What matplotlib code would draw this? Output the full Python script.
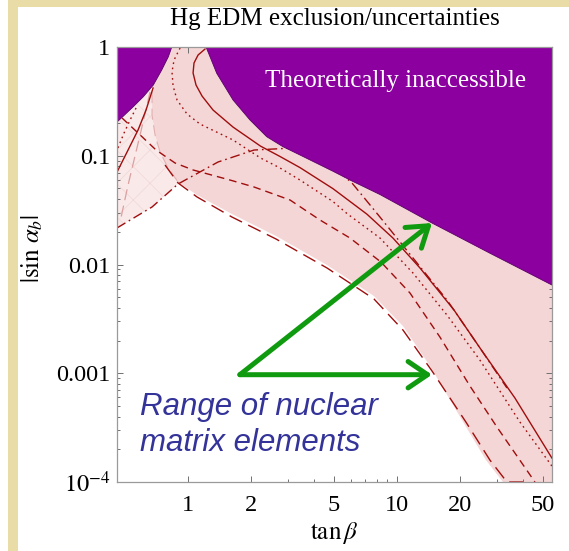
import matplotlib
matplotlib.use("Agg")
import matplotlib.pyplot as plt
from matplotlib.ticker import FixedLocator, FixedFormatter, NullFormatter
from matplotlib.patches import Rectangle

plt.rcParams['font.family'] = ['Liberation Serif', 'DejaVu Serif']
plt.rcParams['mathtext.fontset'] = 'stix'
plt.rcParams['lines.scale_dashes'] = False
plt.rcParams['hatch.linewidth'] = 0.6

# ---- data: tan(beta) and |sin alpha_b| along each boundary / curve ----
# theoretically inaccessible region
excl_left_tb = [0.40, 0.459, 0.547, 0.611, 0.682, 0.748, 0.805, 0.836]
excl_left_s = [0.2056, 0.2056, 0.2825, 0.349, 0.447, 0.614, 0.814, 1.0]
excl_right_tb = [1.2195, 1.274, 1.372, 1.642, 1.980, 2.380, 2.848, 3.435,
                 4.941, 6.091, 8.292, 14.71, 27.86, 55.17]
excl_right_s = [1.0, 0.814, 0.573, 0.3256, 0.213, 0.1497, 0.1211, 0.1016,
                0.0720, 0.0586, 0.0440, 0.02407, 0.0127, 0.00648]

# allowed band (range of nuclear matrix elements)
band_left_tb = [0.6726, 0.6726, 0.6952, 0.7345, 0.8025, 0.8958]
band_left_s = [0.3857, 0.2369, 0.1552, 0.1082, 0.0772, 0.0574]
band_low_tb = [0.8958, 1.104, 1.624, 2.637, 4.626, 7.762, 10.68, 14.38,
               20.46, 26.66, 32.16]
band_low_s = [0.0574, 0.0436, 0.0291, 0.0183, 0.00989, 0.00513, 0.00272,
              0.00117, 0.000372, 0.000159, 0.0001]

# individual exclusion curves
solid_tb = [1.206, 1.117, 1.068, 1.057, 1.092, 1.167, 1.317, 1.642, 2.223,
            2.755, 3.435, 4.941, 7.187, 9.570, 12.88, 18.74, 24.95, 36.69,
            55.17]
solid_s = [0.958, 0.844, 0.713, 0.577, 0.447, 0.354, 0.2634, 0.1835, 0.1226,
           0.0985, 0.0778, 0.0498, 0.0290, 0.0175, 0.00930, 0.00382, 0.00171,
           0.000592, 0.000166]
solid_left_tb = [0.680, 0.6295, 0.5765, 0.5163, 0.4574]
solid_left_s = [0.4198, 0.2634, 0.1725, 0.1129, 0.0709]

dotted_tb = [0.916, 0.857, 0.838, 0.848, 0.886, 0.989, 1.141, 1.642, 2.223,
             2.755, 3.435, 4.941, 5.766, 8.292, 11.93, 17.35, 24.95, 38.78,
             55.17]
dotted_s = [0.979, 0.759, 0.589, 0.438, 0.3256, 0.2420, 0.1957, 0.1396,
            0.0954, 0.0772, 0.0598, 0.0379, 0.0294, 0.01752, 0.00835, 0.00343,
            0.00132, 0.000356, 0.000140]
dotted_left_tb = [0.5639, 0.5279, 0.4940, 0.4574]
dotted_left_s = [0.2748, 0.2132, 0.1619, 0.1129]

dashed_tb = [0.4831, 0.5765, 0.7030, 0.8666, 1.057, 1.589, 2.070, 3.076,
             4.281, 5.958, 8.383, 11.54, 16.06, 22.35, 30.10, 45.75]
dashed_s = [0.2224, 0.1619, 0.1129, 0.0858, 0.0740, 0.0598, 0.0516, 0.0392,
            0.02566, 0.01752, 0.01054, 0.00547, 0.00215, 0.000763, 0.000320,
            0.0001]

longdash_tb = [0.7762, 0.8958, 1.104, 1.624, 2.637, 4.626, 7.762, 10.68,
               14.71, 21.38, 27.86, 33.60, 43.3]
longdash_s = [0.0822, 0.0562, 0.0418, 0.0273, 0.01716, 0.00929, 0.00482,
              0.00250, 0.00105, 0.000356, 0.000159, 0.0001, 0.0001]

dashdot_tb = [0.4574, 0.6726, 0.8958, 1.3917, 2.070, 3.179, 4.377, 6.091,
              8.292, 11.93, 17.35, 24.95, 33.60]
dashdot_s = [0.0217, 0.0338, 0.0550, 0.0876, 0.1129, 0.1178, 0.0974, 0.0562,
             0.0273, 0.01148, 0.00472, 0.00171, 0.000732]

faint_tb = [0.6579, 0.5893, 0.5163, 0.4727]
faint_s = [0.3857, 0.1552, 0.0538, 0.0246]

# annotation arrows
arrow_tail = (1.77, 0.00097)
arrow_tip_tb = [14.71, 14.71]
arrow_tip_s = [0.02407, 0.00097]

x_ticks = [1, 2, 5, 10, 20, 50]
x_minor = [3, 4, 6, 7, 8, 9, 30, 40]
y_ticks = [1e-4, 1e-3, 1e-2, 1e-1, 1]
y_labels = [r'$10^{-4}$', '0.001', '0.01', '0.1', '1']

# ---- colours ----
PURPLE = '#8c00a0'
PINK = '#f5d6d6'
PINK_LIGHT = '#f9e9e9'
RED = '#a00d0d'
GREEN = '#109a10'
BLUE = '#333399'
BEIGE = '#e9dca6'

fig = plt.figure(figsize=(5.69, 5.51), dpi=100)
fig.add_artist(Rectangle((8 / 569, 0), 10 / 569, 1, transform=fig.transFigure,
                         color=BEIGE, lw=0, zorder=0))
fig.add_artist(Rectangle((8 / 569, 1 - 7 / 551), 1, 7 / 551,
                         transform=fig.transFigure, color=BEIGE, lw=0, zorder=0))

ax = fig.add_axes([0.2056, 0.1252, 0.7645, 0.7895])
ax.set_xscale('log')
ax.set_yscale('log')

# lighter wedge on the left
wedge_x = [0.40] + dashdot_tb[:3] + band_left_tb[::-1] + [0.60, 0.40]
wedge_y = [dashdot_s[0]] + dashdot_s[:3] + band_left_s[::-1] + [0.6, 0.6]
ax.fill(wedge_x, wedge_y, facecolor=PINK_LIGHT, edgecolor='#f1d9d9',
        hatch='x', lw=0, zorder=1)

# main band
band_x = [0.70] + band_left_tb + band_low_tb[1:] + [36, 80, 80, 0.70]
band_y = [0.8] + band_left_s + band_low_s[1:] + [5e-5, 5e-5, 3, 3]
ax.fill(band_x, band_y, color=PINK, lw=0, zorder=1)

lkw = dict(color=RED, lw=1.0, zorder=2)
ax.plot(faint_tb, faint_s, color='#dca0a0', lw=0.9, ls=(0, (8, 4)), zorder=1.5)
ax.plot(band_left_tb, band_left_s, color='#e2b0b0', lw=0.8, ls=(0, (8, 4)),
        zorder=1.5)
ax.plot(solid_tb, solid_s, ls='-', **lkw)
ax.plot(solid_left_tb, solid_left_s, ls='-', **lkw)
ax.plot(dotted_tb, dotted_s, ls=(0, (1.2, 2.6)), **lkw)
ax.plot(dotted_left_tb, dotted_left_s, ls=(0, (1.2, 2.6)), **lkw)
ax.plot(dashed_tb, dashed_s, ls=(0, (5.5, 3.6)), **lkw)
ax.plot(longdash_tb, longdash_s, ls=(0, (10, 5)), **lkw)
ax.plot(dashdot_tb, dashdot_s, ls=(0, (7, 2.8, 1.2, 2.8)), **lkw)

# inaccessible region
left_x = excl_left_tb + [0.84, 0.40]
left_y = excl_left_s + [2, 2]
ax.fill(left_x, left_y, facecolor=PURPLE, edgecolor='#5a0068', lw=0.6,
        zorder=2.2)
right_x = [1.215] + excl_right_tb + [80, 80, 1.215]
right_y = [2] + excl_right_s + [0.0045, 2, 2]
ax.fill(right_x, right_y, facecolor=PURPLE, edgecolor='#5a0068', lw=0.6,
        zorder=2.2)

ax.text(9.89, 0.429, 'Theoretically inaccessible', color='white', fontsize=18,
        ha='center', va='baseline', zorder=4)

ax.text(0.589, 0.000413, 'Range of nuclear', fontsize=22.5, style='italic',
        family=['Liberation Sans'], color=BLUE, ha='left', va='baseline',
        zorder=4)
ax.text(0.589, 0.000193, 'matrix elements', fontsize=22.5, style='italic',
        family=['Liberation Sans'], color=BLUE, ha='left', va='baseline',
        zorder=4)

for tb, s in zip(arrow_tip_tb, arrow_tip_s):
    ax.annotate('', xy=(tb, s), xytext=arrow_tail, zorder=5,
                arrowprops=dict(arrowstyle='->,head_length=1.4,head_width=0.95',
                                lw=3.6, color=GREEN, shrinkA=0, shrinkB=0,
                                mutation_scale=10, capstyle='round',
                                joinstyle='round'))

ax.set_xlim(0.457, 55.2)
ax.set_ylim(1e-4, 1)

ax.xaxis.set_major_locator(FixedLocator(x_ticks))
ax.xaxis.set_major_formatter(FixedFormatter([str(v) for v in x_ticks]))
ax.xaxis.set_minor_locator(FixedLocator(x_minor))
ax.xaxis.set_minor_formatter(NullFormatter())
ax.yaxis.set_major_locator(FixedLocator(y_ticks))
ax.yaxis.set_major_formatter(FixedFormatter(y_labels))
ax.yaxis.set_minor_locator(FixedLocator(
    [k * 10.0 ** d for d in range(-4, 0) for k in range(2, 10)]))
ax.yaxis.set_minor_formatter(NullFormatter())

ax.tick_params(which='both', direction='in', top=True, right=True,
               color='#707070', width=0.7, labelsize=17.5, labelcolor='black')
ax.tick_params(which='major', length=4.5)
ax.tick_params(which='minor', length=2.5)
ax.tick_params(axis='x', pad=9)
ax.tick_params(axis='y', pad=5)
for sp in ax.spines.values():
    sp.set_color('#9a9a9a')
    sp.set_linewidth(0.9)
    sp.set_zorder(3)

ax.set_title('Hg EDM exclusion/uncertainties', fontsize=18, pad=16)
ax.set_xlabel(r'$\tan\beta$', fontsize=18)
ax.xaxis.set_label_coords(0.5, -0.088)
ax.set_ylabel(r'$|\sin\,\alpha_b|$', fontsize=18)
ax.yaxis.set_label_coords(-0.166, 0.538)

fig.savefig('out.png', dpi=100)
